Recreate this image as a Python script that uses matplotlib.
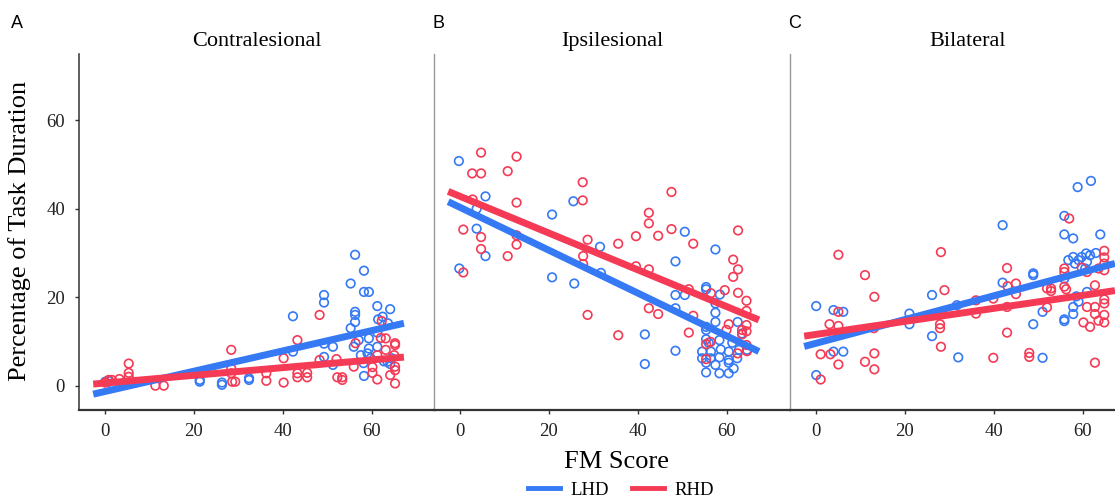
import numpy as np
import matplotlib
matplotlib.use("Agg")
import matplotlib.pyplot as plt
from matplotlib.lines import Line2D

# Colours and fonts
blue = "#3579F4"
red = "#F43A55"
plt.rcParams["font.family"] = "Liberation Serif"

panels = ["Contralesional", "Ipsilesional", "Bilateral"]
letters = ["A", "B", "C"]

# Contralesional (A)
contra_lhd_fm = [0, 0.8, 1.5, 21.3, 21.3, 26.3, 26.3, 32.4, 32.4, 42.3, 42.3, 49.3, 49.3, 49.3, 49.3,
                 51.3, 51.3, 55.3, 55.3, 56.3, 56.3, 56.3, 56.3, 56.0, 57.1, 58.3, 58.3, 58.3, 59.4, 59.4,
                 59.4, 59.1, 57.6, 59.8, 58.2, 61.3, 61.3, 61.5, 62.5, 63.7, 64.2, 63.6, 64.2, 61.3, 62.8, 64.5]
contra_lhd_pct = [0.9, 1.1, 0.5, 1.3, 0.9, 0.7, 0.2, 1.7, 1.3, 15.7, 7.7, 20.5, 18.8, 9.5, 6.5,
                  8.8, 4.7, 23.1, 13.0, 29.6, 16.7, 16.0, 14.4, 8.8, 10.3, 26.0, 21.2, 2.2, 21.2, 10.7,
                  8.4, 7.3, 6.9, 6.2, 5.1, 18.0, 8.8, 15.0, 15.6, 14.1, 17.3, 5.4, 4.9, 12.0, 5.5, 6.2]
contra_rhd_fm = [5.3, 5.3, 5.3, 3.2, 0.8, 1.5, 0, 11.3, 13.2, 28.4, 28.4, 28.4, 28.6, 29.3, 36.3, 36.3,
                 40.2, 40.2, 43.3, 43.3, 43.3, 45.5, 45.5, 48.3, 48.3, 52.1, 52.3, 53.4, 53.4, 56.0, 56.4,
                 60.2, 60.2, 61.3, 61.3, 62.3, 62.1, 63.2, 63.2, 65.3, 65.3, 65.3, 65.3, 65.3, 65.1, 64.2]
contra_rhd_pct = [5.0, 2.9, 2.0, 1.5, 1.3, 1.3, 0.7, 0.0, 0.0, 8.1, 3.9, 2.8, 0.9, 0.9, 2.8, 1.1,
                  6.2, 0.7, 10.3, 2.8, 1.9, 2.9, 1.9, 16.0, 5.8, 6.0, 1.9, 1.9, 1.3, 4.3, 9.6,
                  4.2, 2.9, 6.9, 1.4, 14.6, 10.8, 10.7, 8.1, 9.6, 9.2, 4.3, 3.5, 0.5, 6.9, 2.4]

# Ipsilesional (B)
ipsi_lhd_fm = [-0.3, 5.7, 3.7, 25.5, 20.7, 50.6, 57.5, 3.7, 31.5, 5.7, -0.2, 20.7, 25.7, 31.7, 48.5,
               55.4, 55.4, 58.5, 48.5, 50.6, 48.5, 57.5, 57.5, 57.5, 55.4, 55.4, 62.5, 41.6, 48.5, 41.6,
               55.4, 56.0, 58.4, 61.3, 54.5, 56.5, 58.7, 60.5, 62.8, 64.6, 54.5, 56.4, 58.4, 60.5, 62.4,
               55.4, 57.5, 60.5, 61.6, 55.4, 58.4, 60.5, 63.5]
ipsi_lhd_pct = [50.8, 42.8, 40.0, 41.7, 38.7, 34.8, 30.8, 35.5, 31.4, 29.3, 26.5, 24.5, 23.1, 25.5, 28.1,
                22.3, 21.8, 20.6, 20.5, 20.5, 17.5, 18.6, 16.5, 14.4, 13.3, 12.6, 14.4, 11.6, 7.9, 4.9,
                10.5, 9.7, 10.3, 9.7, 7.7, 7.7, 8.2, 7.7, 8.1, 8.1, 6.2, 6.2, 6.4, 5.8, 6.2,
                5.2, 4.7, 5.2, 3.9, 3.0, 2.8, 2.8, 11.8]
ipsi_rhd_fm = [4.7, 12.7, 2.7, 4.7, 10.7, 27.6, 27.6, 2.8, 12.7, 47.6, 42.5, 42.5, 47.6, 39.6, 44.6,
               62.6, 52.5, 35.6, 28.7, 0.7, 4.7, 4.7, 12.7, 12.7, 10.7, 0.7, 27.7, 27.7, 28.7, 39.6,
               42.5, 61.5, 62.6, 61.5, 51.5, 56.5, 59.6, 62.6, 64.5, 64.5, 42.5, 44.6, 52.5, 60.5, 60.0,
               64.5, 63.5, 64.5, 63.5, 51.5, 35.6, 55.4, 56.4, 55.4, 62.5, 64.5, 64.6]
ipsi_rhd_pct = [52.7, 51.8, 48.0, 48.0, 48.5, 46.0, 41.9, 42.1, 41.4, 43.8, 39.1, 36.7, 35.4, 33.8, 33.9,
                35.1, 32.1, 32.1, 33.0, 35.3, 33.6, 30.9, 34.0, 31.9, 29.3, 25.6, 29.3, 27.5, 16.0, 27.0,
                26.3, 28.5, 26.3, 24.6, 21.8, 20.9, 21.6, 21.0, 19.2, 16.9, 17.5, 16.2, 15.8, 13.9, 12.6,
                13.7, 12.6, 12.3, 11.6, 12.0, 11.4, 9.4, 9.9, 6.0, 7.3, 9.2, 7.8]

# Bilateral (C)
bi_lhd_fm = [0, 3.9, 6.1, 21.0, 21.0, 26.1, 26.1, 3.9, 6.1, 0, 32.0, 31.7, 42.0, 42.0, 48.9, 48.9,
             48.9, 51.0, 51.0, 55.9, 58.9, 61.9, 55.9, 57.9, 64.0, 56.8, 57.9, 59.1, 59.8, 60.8, 61.7,
             63.0, 61.0, 58.3, 55.9, 55.9, 55.9, 57.9, 57.9, 59.1, 61.0, 58.6, 60.6]
bi_lhd_pct = [18.0, 17.1, 16.7, 16.3, 13.9, 20.5, 11.2, 7.7, 7.7, 2.4, 6.4, 18.2, 36.3, 23.3, 25.4, 25.0,
              13.9, 16.7, 6.3, 38.4, 44.9, 46.3, 34.2, 33.3, 34.2, 28.4, 29.1, 28.4, 29.1, 29.9, 29.5,
              30.0, 28.0, 27.6, 24.2, 15.0, 14.6, 16.2, 17.8, 19.0, 21.2, 20.2, 26.5]
bi_rhd_fm = [5.0, 11.0, 28.1, 13.1, 28.9, 5.0, 3.0, 5.0, 13.0, 27.9, 27.9, 28.1, 1.0, 3.2, 5.0, 11.0,
             13.1, 13.1, 1.0, 57.0, 64.9, 64.9, 64.9, 64.9, 55.9, 55.9, 59.8, 61.0, 63.6, 55.9, 56.3,
             52.0, 52.9, 52.9, 43.0, 45.0, 45.0, 43.1, 39.9, 36.0, 36.0, 43.0, 52.0, 43.0, 61.0, 62.8,
             62.8, 64.9, 64.9, 64.9, 63.6, 64.9, 60.2, 61.7, 62.8, 62.8, 39.9, 48.0, 48.0]
bi_rhd_pct = [29.6, 25.0, 30.2, 20.1, 21.6, 16.7, 13.9, 13.5, 13.0, 13.9, 13.0, 8.8, 7.1, 7.1, 4.8, 5.4,
              7.3, 3.7, 1.4, 37.8, 30.5, 29.0, 27.6, 26.1, 26.5, 25.7, 26.7, 25.7, 26.5, 22.4, 21.8,
              22.0, 22.0, 21.4, 26.6, 23.1, 20.7, 22.5, 19.7, 19.3, 16.3, 17.8, 17.7, 12.0, 17.8, 17.8,
              16.2, 19.5, 18.6, 16.0, 14.7, 14.3, 14.3, 13.3, 22.7, 5.2, 6.3, 7.4, 6.5]

# fitted lines (intercept, slope)
lhd_fit = [(-1.3, 0.229), (40.3, -0.484), (9.6, 0.268)]
rhd_fit = [(0.6, 0.087), (42.8, -0.415), (11.6, 0.147)]
fit_range = [-2.7, 67.3]

lhd_data = [(contra_lhd_fm, contra_lhd_pct), (ipsi_lhd_fm, ipsi_lhd_pct), (bi_lhd_fm, bi_lhd_pct)]
rhd_data = [(contra_rhd_fm, contra_rhd_pct), (ipsi_rhd_fm, ipsi_rhd_pct), (bi_rhd_fm, bi_rhd_pct)]

fig = plt.figure(figsize=(11.15, 5.01), dpi=100)

W, H = 1115, 501
lefts = [79, 434, 790]
ax_w = 356
top, bottom = 54, 410

xs = np.array(fit_range)
for i in range(3):
    ax = fig.add_axes([lefts[i] / W, 1 - bottom / H, ax_w / W, (bottom - top) / H])
    ax.scatter(*lhd_data[i], s=38, facecolors="none", edgecolors=blue, linewidths=1.2, zorder=2)
    ax.scatter(*rhd_data[i], s=38, facecolors="none", edgecolors=red, linewidths=1.2, zorder=2)
    b0, b1 = lhd_fit[i]
    ax.plot(xs, b0 + b1 * xs, color=blue, lw=5, solid_capstyle="butt", zorder=3)
    b0, b1 = rhd_fit[i]
    ax.plot(xs, b0 + b1 * xs, color=red, lw=5, solid_capstyle="butt", zorder=3)

    ax.set_xlim(-5.9, 74.3)
    ax.set_ylim(-5.5, 75)
    ax.set_xticks([0, 20, 40, 60])
    ax.set_yticks([0, 20, 40, 60])
    ax.set_title(panels[i], fontsize=16, pad=6)
    for s in ["top", "right"]:
        ax.spines[s].set_visible(False)
    ax.spines["bottom"].set_color("#333333")
    ax.spines["bottom"].set_linewidth(1.6)
    ax.tick_params(axis="x", length=3, width=1, color="#333333", labelsize=13.5, pad=6.5,
                   labelcolor="#222222")
    if i == 0:
        ax.spines["left"].set_color("#333333")
        ax.spines["left"].set_linewidth(1.1)
        ax.tick_params(axis="y", length=3, width=1, color="#333333", labelsize=13.5, pad=7,
                       labelcolor="#222222")
    else:
        ax.spines["left"].set_color("#999999")
        ax.spines["left"].set_linewidth(1.0)
        ax.tick_params(axis="y", left=False, labelleft=False)

# panel letters
letter_x = [11, 433, 788]
for lx, letter in zip(letter_x, letters):
    fig.text(lx / W, 1 - 24 / H, letter, family="Liberation Sans", fontsize=13, va="center", ha="left")

fig.text(20 / W, 1 - 231 / H, "Percentage of Task Duration", rotation=90, fontsize=19,
         va="center", ha="center")
fig.text(616 / W, 1 - 462 / H, "FM Score", fontsize=19, va="center", ha="center")

handles = [Line2D([0], [0], color=blue, lw=3.5), Line2D([0], [0], color=red, lw=3.5)]
fig.legend(handles, ["LHD", "RHD"], loc="center", bbox_to_anchor=(621 / W, 1 - 490 / H), ncol=2,
           frameon=False, fontsize=13.5, handlelength=1.7, handletextpad=0.6, columnspacing=1.2)

fig.savefig("out.png", dpi=100)
